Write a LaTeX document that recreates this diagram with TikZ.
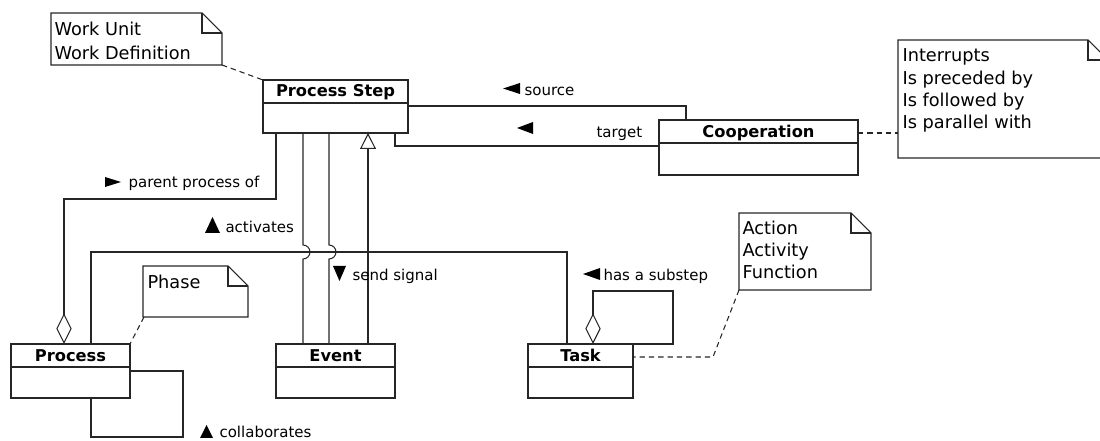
\documentclass[tikz,border=0pt]{standalone}
\usepackage{fontspec}
\setmainfont{DejaVu Sans}
\usetikzlibrary{arrows.meta,calc}
\begin{document}
\begin{tikzpicture}[x=0.75pt,y=-0.75pt,line width=0.8pt,draw=black!85,
  cls/.style={draw, outer sep=0pt, inner sep=0pt, minimum width=#1, minimum height=40.5pt,
    path picture={\draw ($(path picture bounding box.north west)+(0,23)$) -- ($(path picture bounding box.north east)+(0,23)$);}},
  clsname/.style={font=\bfseries\fontsize{12.2pt}{14pt}\selectfont, anchor=base, inner sep=0pt},
  notetext/.style={font=\fontsize{13.3pt}{16pt}\selectfont, anchor=base west, inner sep=0pt},
  lbl/.style={font=\fontsize{11.25pt}{13pt}\selectfont, anchor=base west, inner sep=0pt},
  notedash/.style={dash pattern=on 4pt off 3pt},
  agg/.style={-{Diamond[open,length=23pt,width=11.5pt]}},
  gen/.style={-{Triangle[open,length=12pt,width=12pt]}},
  dirmark/.style={fill=black, draw=none}]
\useasboundingbox (0,0) rectangle (1100,441);

% classes
\node[cls=108.75pt, minimum height=39.75pt] (ps) at (335.5,106.5) {};
\node[clsname] (psname) at (335.5,97) {Process Step};
\node[cls=149.25pt, minimum height=41.25pt] (coop) at (758.5,147.5) {};
\node[clsname] (coopname) at (758.5,137.5) {Cooperation};
\node[cls=89.25pt] (proc) at (70.5,371) {};
\node[clsname] (procname) at (70.5,361.5) {Process};
\node[cls=89.25pt] (ev) at (335.5,371) {};
\node[clsname] (evname) at (335.5,361.5) {Event};
\node[cls=78.75pt] (task) at (580.5,371) {};
\node[clsname] (taskname) at (580.5,361.5) {Task};

% notes
\draw (51,13) -- (202,13) -- (222,33) -- (222,65) -- (51,65) -- cycle;
\draw (202,13) -- (202,33) -- (222,33);
\coordinate (n1) at (222,65);
\node[notetext] (n1a) at (54,36) {Work Unit};
\node[notetext] (n1b) at (54,59.3) {Work Definition};

\draw (898,40) -- (1088,40) -- (1108,60) -- (1108,158) -- (898,158) -- cycle;
\draw (1088,40) -- (1088,60) -- (1108,60);
\coordinate (n2) at (898,133);
\node[notetext] (n2a) at (902,61.7) {Interrupts};
\node[notetext] (n2b) at (902,84.3) {Is preceded by};
\node[notetext] (n2c) at (902,106.7) {Is followed by};
\node[notetext] (n2d) at (902,129) {Is parallel with};

\draw (143,266) -- (228,266) -- (248,286) -- (248,317) -- (143,317) -- cycle;
\draw (228,266) -- (228,286) -- (248,286);
\coordinate (n3) at (144,317);
\node[notetext] (n3a) at (147,288.3) {Phase};

\draw (739,213) -- (851,213) -- (871,233) -- (871,290) -- (739,290) -- cycle;
\draw (851,213) -- (851,233) -- (871,233);
\coordinate (n4) at (739,290);
\node[notetext] (n4a) at (742,235) {Action};
\node[notetext] (n4b) at (742,257) {Activity};
\node[notetext] (n4c) at (742,279) {Function};

% note anchors
\draw[notedash] (n1) -- (ps.north west);
\draw[notedash] ($(coop.north east)+(0,13)$) -- (n2);
\draw[notedash] (n3) -- (proc.north east);
\draw[notedash] (n4) -- ($(task.north east)+(80,13)$) -- ($(task.north east)+(0,13)$);

% associations
\draw ($(ps.north east)+(0,26)$) -| ($(coop.north west)+(27,0)$);
\draw ($(ps.south east)+(-13,0)$) |- ($(coop.north west)+(0,26)$);
\draw[agg] ($(ps.south west)+(13,0)$) -- ++(0,66) -| ($(proc.north west)+(53,0)$);
\draw ($(ps.south west)+(40,0)$) -- ++(0,112) arc[start angle=90,end angle=-90,radius=5.25pt] -- ($(ev.north west)+(27,0)$);
\draw ($(ps.south west)+(66,0)$) -- ++(0,112) arc[start angle=90,end angle=-90,radius=5.25pt] -- ($(ev.north west)+(53,0)$);
\draw[gen] ($(ev.north west)+(92,0)$) -- ($(ps.south west)+(105,0)$);
\draw ($(proc.north west)+(80,0)$) -- ++(0,-92) -| ($(task.north west)+(39,0)$);
\draw ($(proc.north east)+(0,27)$) -| ++(53,66) -| ($(proc.south west)+(80,0)$);
\draw[agg] (task.north east) -- ++(40,0) -- ++(0,-53) -| ($(task.north west)+(65,0)$);

% reading-direction marks and role labels
\fill[dirmark] (503,88.5) -- (520,83) -- (520,94) -- cycle;
\node[lbl] (lsrc) at (524,95.5) {source};
\fill[dirmark] (517,128) -- (533,122) -- (533,134) -- cycle;
\node[lbl] (ltgt) at (596,138) {target};
\fill[dirmark] (121,182) -- (105,177) -- (105,187) -- cycle;
\node[lbl] (lpar) at (128,187.5) {parent process of};
\fill[dirmark] (212.5,217) -- (205,233) -- (220,233) -- cycle;
\node[lbl] (lact) at (225,233) {activates};
\fill[dirmark] (339.5,281) -- (333,266) -- (346,266) -- cycle;
\node[lbl] (lsig) at (352,280.5) {send signal};
\fill[dirmark] (206.5,425) -- (200,438) -- (213,438) -- cycle;
\node[lbl] (lcol) at (219,438) {collaborates};
\fill[dirmark] (583,274) -- (600,268) -- (600,280) -- cycle;
\node[lbl] (lsub) at (603,280.5) {has a substep};
\end{tikzpicture}
\end{document}
